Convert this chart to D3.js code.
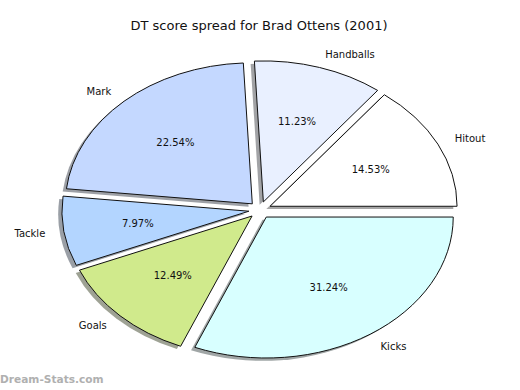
<!DOCTYPE html>
<html>
<head>
<meta charset="utf-8">
<script src="https://cdn.jsdelivr.net/npm/d3@7"></script>
<style>
  body { margin: 0; background: #fff; }
  svg { display: block; font-family: "DejaVu Sans", sans-serif; }
</style>
</head>
<body>
<svg width="520" height="390"></svg>
<script>
// data, in the order matplotlib draws it (counter-clockwise from 3 o'clock)
const categories = ['Hitout', 'Handballs', 'Mark', 'Tackle', 'Goals', 'Kicks'];
const values = [14.53, 11.23, 22.54, 7.97, 12.49, 31.24];
const colours = ['#ffffff', '#e9f0ff', '#c4d8ff', '#b3d5ff', '#d0ea8c', '#d8ffff'];

// this is the pie size (axes are not square, so the pie is an ellipse)
const cx = 260, cy = 210;
const rx = 187, ry = 141;
const explode = 0.06;

const svg = d3.select('svg');

const pie = d3.pie()
    .sort(null)
    .value((d) => d.value)
    .startAngle(Math.PI / 2)
    .endAngle(Math.PI / 2 - 2 * Math.PI);

const arcs = pie(categories.map((c, i) => ({ name: c, value: values[i], colour: colours[i] })));

const arc = d3.arc().innerRadius(0).outerRadius(1);

// d3 angle (clockwise from north) -> unit vector on screen
const unit = (a) => [Math.sin(a), -Math.cos(a)];
const mid = (d) => (d.startAngle + d.endAngle) / 2;

// shadows first, so they sit under every wedge
svg.append('g')
  .selectAll('path')
  .data(arcs)
  .enter()
  .append('path')
    .attr('transform', (d) => {
      const [ux, uy] = unit(mid(d));
      return `translate(${cx + explode * rx * ux - 0.02 * rx} ${cy + explode * ry * uy + 0.02 * ry}) scale(${rx} ${ry})`;
    })
    .attr('d', arc)
    .attr('fill', (d) => {
      const c = d3.rgb(d.data.colour);
      return d3.rgb(c.r * 0.3, c.g * 0.3, c.b * 0.3);
    })
    .attr('fill-opacity', 0.5);

// these are the wedges
svg.append('g')
  .selectAll('path')
  .data(arcs)
  .enter()
  .append('path')
    .attr('transform', (d) => {
      const [ux, uy] = unit(mid(d));
      return `translate(${cx + explode * rx * ux} ${cy + explode * ry * uy}) scale(${rx} ${ry})`;
    })
    .attr('d', arc)
    .attr('fill', (d) => d.data.colour)
    .attr('stroke', '#111')
    .attr('stroke-width', 1)
    .attr('vector-effect', 'non-scaling-stroke')
    .attr('stroke-linejoin', 'miter');

// category labels
svg.append('g')
  .selectAll('text')
  .data(arcs)
  .enter()
  .append('text')
    .attr('x', (d) => cx + (1.1 + explode) * rx * unit(mid(d))[0])
    .attr('y', (d) => cy + (1.1 + explode) * ry * unit(mid(d))[1])
    .attr('dy', '0.36em')
    .attr('text-anchor', (d) => unit(mid(d))[0] > 0 ? 'start' : 'end')
    .attr('font-size', 10)
    .attr('fill', '#111')
    .text((d) => d.data.name);

// percentages
svg.append('g')
  .selectAll('text')
  .data(arcs)
  .enter()
  .append('text')
    .attr('x', (d) => cx + (0.6 + explode) * rx * unit(mid(d))[0])
    .attr('y', (d) => cy + (0.6 + explode) * ry * unit(mid(d))[1])
    .attr('dy', '0.36em')
    .attr('text-anchor', 'middle')
    .attr('font-size', 10)
    .attr('fill', '#111')
    .text((d) => d.data.value.toFixed(2) + '%');

//title
svg.append('text')
    .attr('x', 259)
    .attr('y', 30)
    .attr('text-anchor', 'middle')
    .attr('font-size', 13)
    .attr('fill', '#111')
    .text('DT score spread for Brad Ottens (2001)');

// watermark
svg.append('text')
    .attr('x', 0)
    .attr('y', 383)
    .attr('font-size', 10.6)
    .attr('font-weight', 'bold')
    .attr('fill', '#b0b0b0')
    .text('Dream-Stats.com');
</script>
</body>
</html>
